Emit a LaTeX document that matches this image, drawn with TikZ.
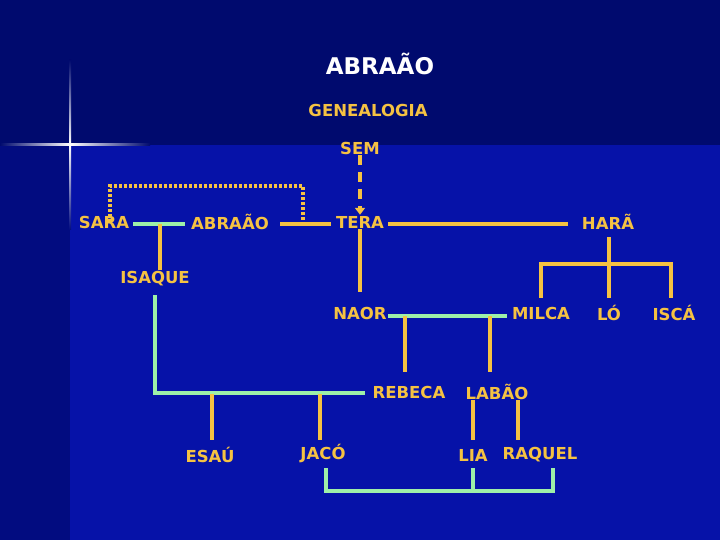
\documentclass[tikz,border=0pt]{standalone}
\usepackage{fontspec}
\setmainfont{DejaVu Sans}
\usetikzlibrary{arrows.meta}
\definecolor{bgtop}{HTML}{000A6E}
\definecolor{bgmain}{HTML}{0612A8}
\definecolor{bgleft}{HTML}{020C80}
\definecolor{gold}{HTML}{F5C242}
\definecolor{mint}{HTML}{9EF0A8}
\begin{document}
\begin{tikzpicture}[x=1pt,y=-1pt,
  nm/.style={text=gold,font=\bfseries\fontsize{16.5}{16.5}\selectfont,inner sep=1pt},
  kin/.style={draw=gold,line width=3.2pt},
  wed/.style={draw=mint,line width=3.2pt}]
\useasboundingbox (0,0) rectangle (720,540);
\fill[bgmain] (0,0) rectangle (720,540);
\fill[bgtop] (0,0) rectangle (720,145);
\fill[bgleft] (0,145) rectangle (70,540);
% sparkle
\shade[left color=bgtop,right color=white] (0,144) rectangle (70,146);
\shade[left color=white,right color=bgtop] (70,144) rectangle (150,146);
\shade[top color=bgtop,bottom color=white] (69,60) rectangle (71,145);
\shade[top color=white,bottom color=bgleft] (69,145) rectangle (71,230);
% texts
\node[text=white,font=\bfseries\fontsize{23}{23}\selectfont] (title) at (380,64) {ABRAÃO};
\node[nm] (gen) at (368,110) {GENEALOGIA};
\node[nm] (sem) at (360,148) {SEM};
\node[nm] (sara) at (104,222) {SARA};
\node[nm] (abr) at (230,222) {ABRAÃO};
\node[nm] (tera) at (360,222) {TERA};
\node[nm] (hara) at (608,222) {HARÃ};
\node[nm] (isa) at (155,279) {ISAQUE};
\node[nm] (naor) at (360,313) {NAOR};
\node[nm] (milca) at (541,313) {MILCA};
\node[nm] (lo) at (609,313) {LÓ};
\node[nm] (isca) at (674,313) {ISCÁ};
\node[nm] (reb) at (409,392) {REBECA};
\node[nm] (lab) at (497,392) {LABÃO};
\node[nm] (esau) at (210,455) {ESAÚ};
\node[nm] (jaco) at (323,453) {JACÓ};
\node[nm] (lia) at (473,455) {LIA};
\node[nm] (raq) at (540,455) {RAQUEL};
% connectors
\coordinate (s1) at (133,224); \coordinate (s2) at (185,224);
\draw[wed] (s1) -- (s2);
\draw[kin] (160,224) coordinate (sx) -- (isa.north -| sx);
\coordinate (a1) at (280,224); \coordinate (a2) at (331,224);
\draw[kin] (a1) -- (a2);
\draw[gold,line width=3.2pt,dash pattern=on 3pt off 2pt] (110,222) -- (110,186) -- (303,186) -- (303,223);
\draw[gold,line width=3.5pt,dash pattern=on 10pt off 7pt,-{Triangle[length=7pt,width=10pt]}] (sem.south) -- (tera.north);
\coordinate (t1) at (388,224); \coordinate (t2) at (568,224);
\draw[kin] (t1) -- (t2);
\draw[kin] (tera.south) -- (360,292);
\draw[kin] (609,237) -- (609,298);
\draw[kin] (541,298) -- (541,264) -- (671,264) -- (671,298);
\coordinate (m1) at (388,316); \coordinate (m2) at (507,316);
\draw[wed] (m1) -- (m2);
\draw[kin] (405,316) -- (405,372);
\draw[kin] (490,316) -- (490,372);
\draw[wed] (155,295) -- (155,393) -- (365,393);
\draw[kin] (212,394) -- (212,440);
\draw[kin] (320,394) -- (320,440);
\draw[kin] (473,400) -- (473,440);
\draw[kin] (518,400) -- (518,440);
\draw[wed] (326,468) -- (326,491) -- (553,491) -- (553,468);
\draw[wed] (473,468) -- (473,491);
\end{tikzpicture}
\end{document}
